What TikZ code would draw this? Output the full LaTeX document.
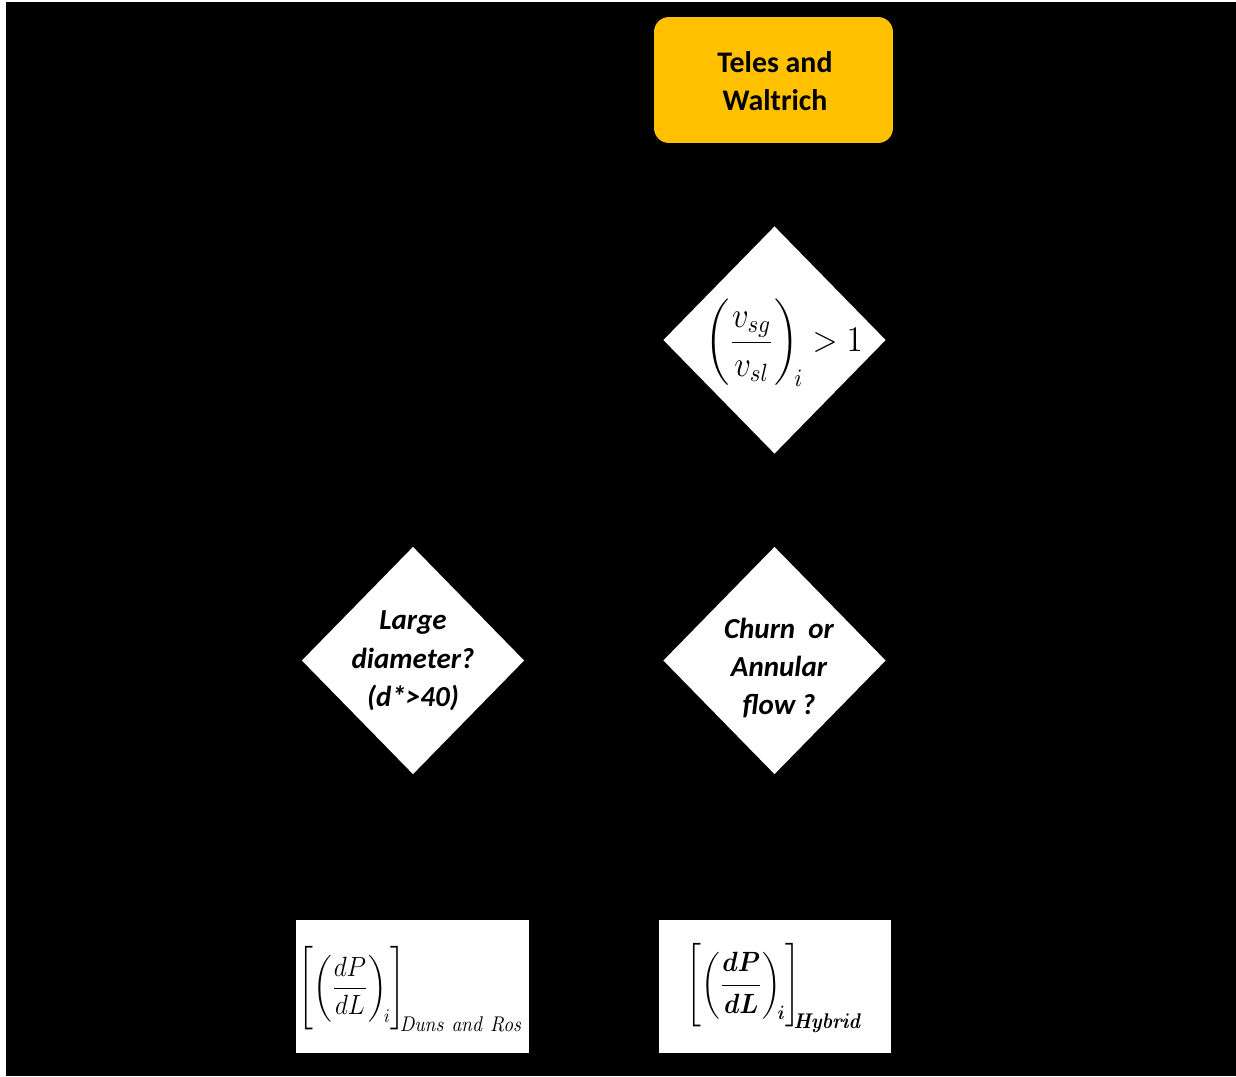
\documentclass[tikz,border=0pt]{standalone}
\usepackage{amsmath}
\usepackage{graphicx}
\usepackage[no-math]{fontspec}
\setmainfont{Carlito}
\usetikzlibrary{shapes.geometric}
\definecolor{boxorange}{HTML}{FFC000}
\newsavebox{\ratiobox}
\newsavebox{\dunsbox}
\newsavebox{\hybridbox}
\tikzset{
  startbox/.style={draw=none, fill=boxorange, rounded corners=0.3cm, minimum width=4.78cm, minimum height=2.52cm, inner sep=0pt},
  starttext/.style={align=center, font=\fontsize{17}{21.5}\selectfont\bfseries, text=black, inner sep=0pt},
  decision/.style={diamond, fill=white, draw=none, minimum width=4.45cm, minimum height=4.55cm, inner sep=0pt},
  dectext/.style={align=center, font=\fontsize{16.5}{21.8}\selectfont\bfseries\itshape, text=black, inner sep=0pt},
  mathtext/.style={text=black, inner sep=0pt},
  resultbox/.style={rectangle, fill=white, draw=none, minimum height=2.66cm, inner sep=0pt}
}
\begin{document}
\sbox{\ratiobox}{\scalebox{1.3}[1.42]{\fontsize{14.4}{17}\selectfont$\displaystyle\biggl(\frac{v_{sg}}{v_{sl}}\biggr)_{\!i} > 1$}}%
\sbox{\dunsbox}{\scalebox{1}[1.1]{\fontsize{14.4}{17}\selectfont$\displaystyle\Biggl[\biggl(\frac{dP}{dL}\biggr)_{\!i}\Biggr]_{\mkern-6mu\scalebox{1.1}{$\scriptstyle\mathit{Duns\ and\ Ros}$}}$}}%
\sbox{\hybridbox}{\scalebox{1}[1.1]{\fontsize{14.4}{17}\selectfont\boldmath$\displaystyle\Biggl[\biggl(\frac{dP}{dL}\biggr)_{\!i}\Biggr]_{\mkern-6mu\scalebox{1.1}{$\scriptstyle\mathit{Hybrid}$}}$}}%
\begin{tikzpicture}[x=0.02cm, y=-0.02cm]
  \fill[white] (0,0) rectangle (1236,1076);
  \fill[black] (6,2) rectangle (1236,1076);
  \useasboundingbox (0,0) rectangle (1236,1076);

  \node[startbox] (start) at (773.5,80) {};
  \node[starttext] (startt) at (775,81) {Teles and\\Waltrich};

  \node[decision] (d1) at (774.5,340) {};
  \node[mathtext] (d1t) at (784,343) {\usebox{\ratiobox}};

  \node[decision] (d2) at (413,660.5) {};
  \node[dectext] (d2t) at (413,661) {Large\\diameter?\\(d*>40)};

  \node[decision] (d3) at (774.5,660.5) {};
  \node[dectext] (d3t) at (779,668) {Churn~~or\\Annular\\flow ?};

  \node[resultbox, minimum width=4.66cm] (r1) at (412.5,986.5) {};
  \node[mathtext] (r1t) at (411,989) {\usebox{\dunsbox}};

  \node[resultbox, minimum width=4.64cm] (r2) at (775,986.5) {};
  \node[mathtext] (r2t) at (775,988) {\usebox{\hybridbox}};
\end{tikzpicture}
\end{document}
